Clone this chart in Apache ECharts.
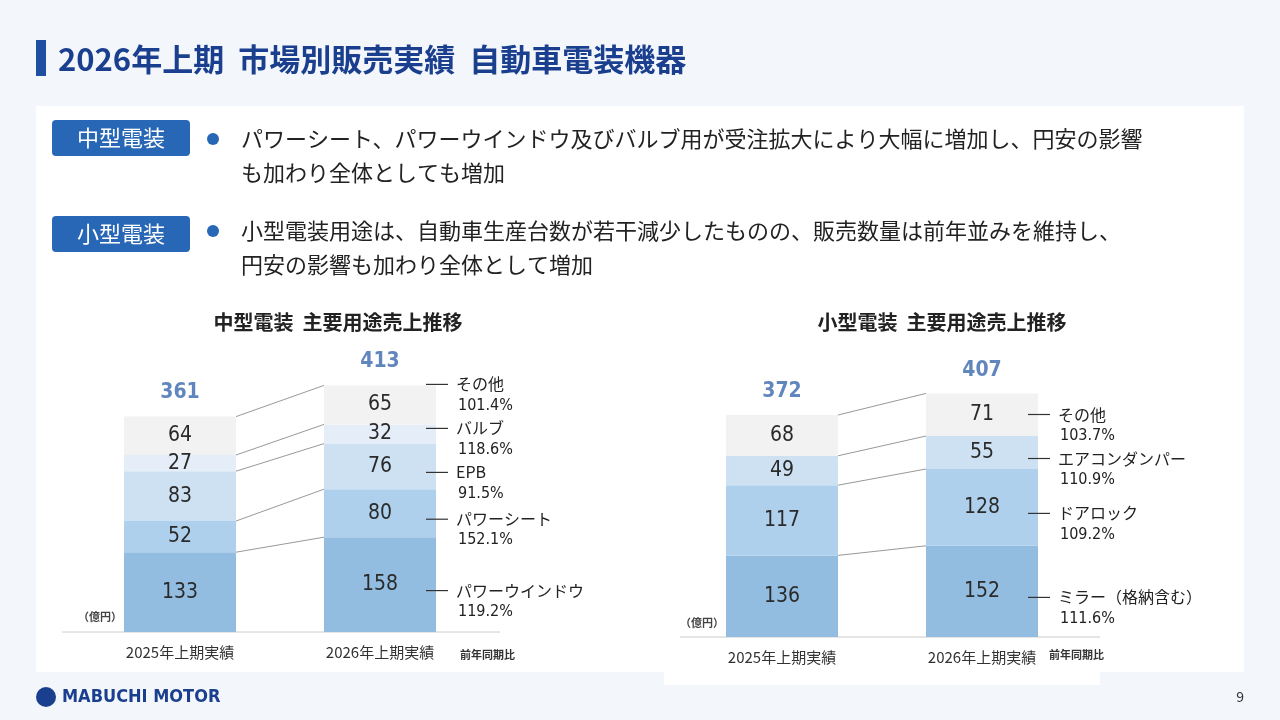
<!DOCTYPE html>
<html><head><meta charset="utf-8">
<script src="https://cdn.jsdelivr.net/npm/echarts@6/dist/echarts.min.js"></script>
<style>html,body{margin:0;padding:0;background:#f3f6fb;}#c{width:1280px;height:720px;}</style>
</head><body><div id="c"></div>
<script>
const categories = ['2025年上期実績','2026年上期実績'];
const midNames = ['パワーウインドウ','パワーシート','EPB','バルブ','その他'];
const mid2025 = [133,52,83,27,64];
const mid2026 = [158,80,76,32,65];
const midYoY = ['119.2%','152.1%','91.5%','118.6%','101.4%'];
const midTotals = [361,413];
const smallNames = ['ミラー（格納含む）','ドアロック','エアコンダンパー','その他'];
const small2025 = [136,117,49,68];
const small2026 = [152,128,55,71];
const smallYoY = ['111.6%','109.2%','110.9%','103.7%'];
const smallTotals = [372,407];

const F = '"Noto Sans CJK JP","Noto Sans",sans-serif';
const N = '"DejaVu Sans Condensed","Noto Sans",sans-serif';
const midColors = ['#92bce0','#aed0ec','#cde1f2','#e5eef8','#f2f2f2'];
const smallColors = ['#92bce0','#aed0ec','#cde1f2','#f2f2f2'];
const HALF = 56;

function cum(a){let s=0;return a.map(v=>s+=v);}

function buildSeries(gi, a1, a2, names, yoy, totals, colors){
  const out=[];
  a1.forEach((v,i)=>{
    out.push({type:'bar',xAxisIndex:gi,yAxisIndex:gi,stack:'s'+gi,barWidth:112,
      data:[a1[i],a2[i]],itemStyle:{color:colors[i]},
      label:{show:true,position:'inside',color:'#2a2a2a',fontSize:21,fontFamily:N},
      silent:true,z:2});
  });
  out.push({type:'scatter',xAxisIndex:gi,yAxisIndex:gi,symbolSize:0,
    data:[[0,totals[0]],[1,totals[1]]],
    label:{show:true,position:'top',distance:12,formatter:p=>p.value[1],color:'#3a68ae',fontSize:21,fontWeight:'bold',fontFamily:N},z:3});
  const c1=cum(a1), c2=cum(a2);
  out.push({type:'custom',xAxisIndex:gi,yAxisIndex:gi,z:1,
    data:c1.map((v,i)=>[v,c2[i]]),
    renderItem:(params,api)=>{
      const p1=api.coord([0,api.value(0)]), p2=api.coord([1,api.value(1)]);
      return {type:'line',shape:{x1:p1[0]+HALF,y1:p1[1],x2:p2[0]-HALF,y2:p2[1]},style:{stroke:'#999',lineWidth:1}};
    }});
  out.push({type:'custom',xAxisIndex:gi,yAxisIndex:gi,z:3,
    data:a2.map((v,i)=>[c2[i]-v/2,i]),
    renderItem:(params,api)=>{
      const ys=a2.map((v,k)=>api.coord([1,c2[k]-v/2])[1]+6);
      for(let k=1;k<ys.length;k++) ys[k]=Math.min(ys[k],ys[k-1]-44);
      const i=api.value(1);
      const p=api.coord([1,api.value(0)]);
      const x=p[0]+HALF-10, y=ys[i];
      return {type:'group',children:[
        {type:'line',shape:{x1:x,y1:y,x2:x+22,y2:y},style:{stroke:'#333',lineWidth:1.2}},
        {type:'text',x:x+30,y:y,style:{text:names[i],fill:'#222',font:'16px '+F,textVerticalAlign:'middle'}},
        {type:'text',x:x+32,y:y+21,style:{text:yoy[i],fill:'#222',font:'16px '+N,textVerticalAlign:'middle'}}
      ]};
    }});
  return out;
}

const grids=[{left:80,width:400,top:332,height:300},{left:682,width:400,top:337,height:300}];
const xAxes=grids.map((g,i)=>({type:'category',gridIndex:i,data:categories,axisLine:{show:false},axisTick:{show:false},
  axisLabel:{color:'#333',fontSize:15,fontFamily:F,margin:13}}));
const yAxes=grids.map((g,i)=>({type:'value',gridIndex:i,min:0,max:500,show:false}));

const T=(x,y,text,font,fill,extra)=>Object.assign({type:'text',x,y,style:Object.assign({text,font,fill:fill||'#222'},extra||{})});

const graphic=[
  {type:'rect',shape:{x:0,y:0,width:1280,height:720},style:{fill:'#f3f6fb'},z:-10},
  {type:'rect',shape:{x:36,y:106,width:1208,height:566},style:{fill:'#fff'},z:-9},
  {type:'rect',shape:{x:664,y:660,width:436,height:25},style:{fill:'#fff'},z:-9},
  {type:'rect',shape:{x:36,y:40,width:10,height:36},style:{fill:'#1f4fa0'}},
  T(58,59,'2026年上期  市場別販売実績  自動車電装機器','bold 31px '+F,'#1b3f8f',{textVerticalAlign:'middle'}),
  {type:'rect',shape:{x:52,y:120,width:138,height:36,r:4},style:{fill:'#2767b5'}},
  T(121,138,'中型電装','22px '+F,'#fff',{textAlign:'center',textVerticalAlign:'middle'}),
  {type:'rect',shape:{x:52,y:216,width:138,height:36,r:4},style:{fill:'#2767b5'}},
  T(121,234,'小型電装','22px '+F,'#fff',{textAlign:'center',textVerticalAlign:'middle'}),
  {type:'circle',shape:{cx:213,cy:139,r:6},style:{fill:'#2767b5'}},
  {type:'circle',shape:{cx:213,cy:231,r:6},style:{fill:'#2767b5'}},
  T(241,139,'パワーシート、パワーウインドウ及びバルブ用が受注拡大により大幅に増加し、円安の影響','22px '+F,'#222',{textVerticalAlign:'middle'}),
  T(241,173,'も加わり全体としても増加','22px '+F,'#222',{textVerticalAlign:'middle'}),
  T(241,231,'小型電装用途は、自動車生産台数が若干減少したものの、販売数量は前年並みを維持し、','22px '+F,'#222',{textVerticalAlign:'middle'}),
  T(241,265,'円安の影響も加わり全体として増加','22px '+F,'#222',{textVerticalAlign:'middle'}),
  T(338,322,'中型電装  主要用途売上推移','bold 20px '+F,'#222',{textAlign:'center',textVerticalAlign:'middle'}),
  T(942,322,'小型電装  主要用途売上推移','bold 20px '+F,'#222',{textAlign:'center',textVerticalAlign:'middle'}),
  {type:'line',shape:{x1:62,y1:632,x2:500,y2:632},style:{stroke:'#ccc',lineWidth:1}},
  {type:'line',shape:{x1:680,y1:637,x2:1100,y2:637},style:{stroke:'#ccc',lineWidth:1}},
  T(78,617,'（億円）','bold 11px '+F,'#444',{textVerticalAlign:'middle'}),
  T(680,623,'（億円）','bold 11px '+F,'#444',{textVerticalAlign:'middle'}),
  T(460,655,'前年同期比','bold 11px '+F,'#333',{textVerticalAlign:'middle'}),
  T(1049,655,'前年同期比','bold 11px '+F,'#333',{textVerticalAlign:'middle'}),
  {type:'circle',shape:{cx:46,cy:697,r:10},style:{fill:'#1b3f8f'}},
  T(62,697,'MABUCHI MOTOR','bold 18px "DejaVu Sans Condensed",sans-serif','#1b3f8f',{textVerticalAlign:'middle'}),
  T(1244,697,'9','14px '+F,'#333',{textAlign:'right',textVerticalAlign:'middle'})
];

const chart=echarts.init(document.getElementById('c'));
chart.setOption({
  animation:false,
  grid:grids,xAxis:xAxes,yAxis:yAxes,graphic,
  series:[...buildSeries(0,mid2025,mid2026,midNames,midYoY,midTotals,midColors),
          ...buildSeries(1,small2025,small2026,smallNames,smallYoY,smallTotals,smallColors)]
});
</script></body></html>
